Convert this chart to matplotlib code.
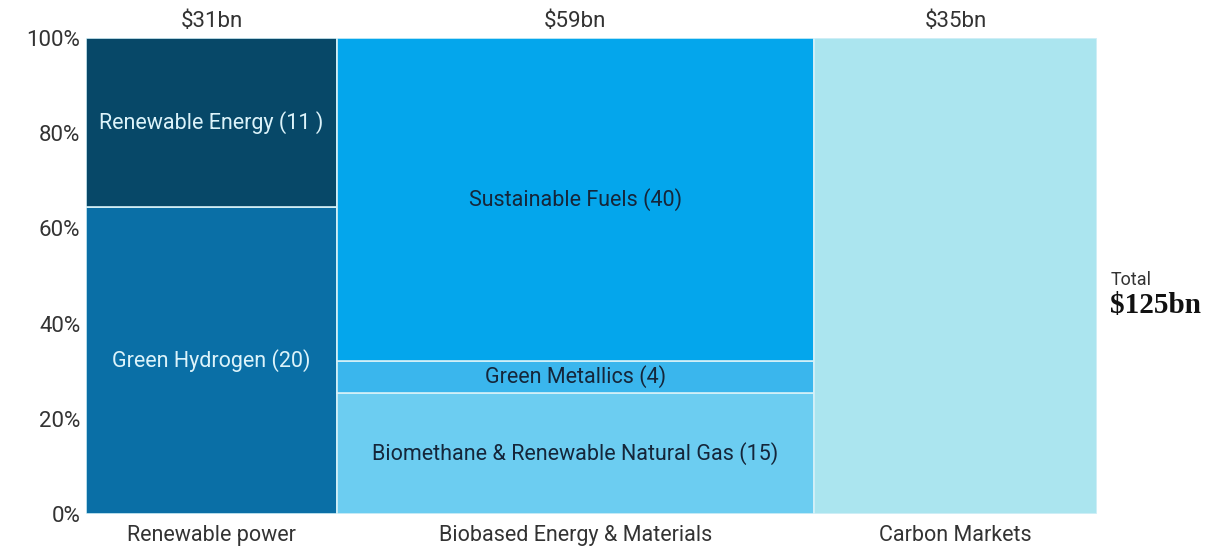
import matplotlib.pyplot as plt

# Market size by sector ($bn) and its sub-segments
sectors = ["Renewable power", "Biobased Energy & Materials", "Carbon Markets"]
sector_totals = [31, 59, 35]
segment_values = [
    [20, 11],
    [15, 4, 40],
    [35],
]
segment_label_text = [
    ["Green Hydrogen (20)", "Renewable Energy (11 )"],
    ["Biomethane & Renewable Natural Gas (15)", "Green Metallics (4)", "Sustainable Fuels (40)"],
    [None],
]
segment_colors = [
    ["#0a6fa6", "#074868"],
    ["#6ccdf1", "#3ab6ed", "#04a6ec"],
    ["#abe5ef"],
]
label_colors = [
    ["#dcf3fa", "#dcf3fa"],
    ["#15263a", "#15263a", "#15263a"],
    [None],
]
y_ticks = [0, 20, 40, 60, 80, 100]
y_tick_labels = ["0%", "20%", "40%", "60%", "80%", "100%"]
grand_total_label = "$125bn"

plt.rcParams["font.family"] = ["Roboto", "DejaVu Sans"]

fig = plt.figure(figsize=(12.22, 5.54), dpi=100)
ax = fig.add_axes([0.0704, 0.0722, 0.8273, 0.8592])

grand_total = sum(sector_totals)
x_left = 0.0
for i, total in enumerate(sector_totals):
    width = total / grand_total * 100
    bottom = 0.0
    for j, val in enumerate(segment_values[i]):
        height = val / total * 100
        ax.bar(x_left, height, width=width, bottom=bottom, align="edge",
               color=segment_colors[i][j], edgecolor="#d6f1f8", linewidth=1.2)
        if segment_label_text[i][j]:
            ax.text(x_left + width / 2, bottom + height / 2, segment_label_text[i][j],
                    ha="center", va="center", fontsize=15.5,
                    color=label_colors[i][j])
        bottom += height
    # sector total above, sector name below
    ax.text(x_left + width / 2, 101.3, f"${total}bn", ha="center", va="bottom",
            fontsize=16, color="#333333")
    ax.text(x_left + width / 2, -2.3, sectors[i], ha="center", va="top",
            fontsize=15.5, color="#333333")
    x_left += width

ax.set_xlim(0, 100)
ax.set_ylim(0, 100)
ax.set_yticks(y_ticks)
ax.set_yticklabels(y_tick_labels, fontsize=16, color="#333333")
ax.tick_params(axis="y", length=0, pad=4)
ax.set_xticks([])
for s in ax.spines.values():
    s.set_visible(False)

# Grand total on the right
ax.text(101.3, 47.2, "Total", ha="left", va="bottom", fontsize=13,
        color="#333333", clip_on=False)
ax.text(101.3, 46.6, grand_total_label, ha="left", va="top", fontsize=21,
        fontweight="bold", family=["Liberation Serif", "DejaVu Serif"],
        color="#111111", clip_on=False)

fig.savefig("out.png", dpi=100)
